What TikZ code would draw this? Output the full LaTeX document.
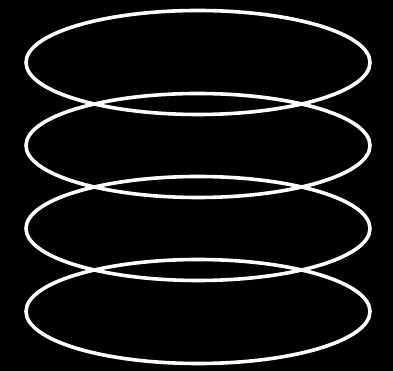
\documentclass[tikz,border=0pt]{standalone}
\usepackage{tikz}

\begin{document}
\begin{tikzpicture}[
  x=1pt, y=1pt,
  disk/.style={draw=white, line width=3.6pt},
]
\fill[black] (0,0) rectangle (393,371);
\useasboundingbox (0,0) rectangle (393,371);
\foreach \yc/\nm in {308.5/a, 225.5/b, 142.5/c, 59.5/d}
  \draw[disk] (198,\yc) ellipse (172pt and 52pt);
\end{tikzpicture}
\end{document}
